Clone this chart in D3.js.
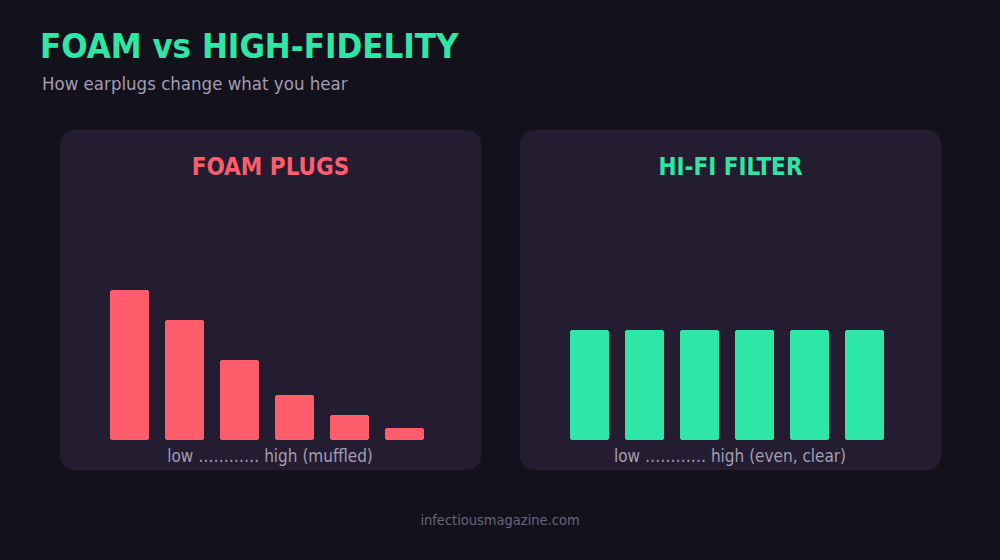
<!DOCTYPE html>
<html>
<head>
<meta charset="utf-8">
<script src="https://cdn.jsdelivr.net/npm/d3@7"></script>
<style>
  html, body { margin: 0; padding: 0; background: #13111c; }
  svg { display: block; font-family: "DejaVu Sans Condensed", "DejaVu Sans", sans-serif; }
</style>
</head>
<body>
<svg id="chart" width="1000" height="560"></svg>
<script>
var bands = ["b1", "b2", "b3", "b4", "b5", "b6"];
var foamValues = [100, 80, 53.3, 30, 16.7, 8];
var hifiValues = [73.4, 73.4, 73.4, 73.4, 73.4, 73.4];
var panelTitles = ["FOAM PLUGS", "HI-FI FILTER"];
var axisLabels = ["low ………… high (muffled)", "low ………… high (even, clear)"];
var panelColors = ["#ff5c6c", "#2ee6a6"];

var width = 1000, height = 560;
var svg = d3.select("#chart");

svg.append("rect").attr("width", width).attr("height", height).attr("fill", "#13111c");

svg.append("text")
    .attr("x", 40).attr("y", 58)
    .attr("fill", "#2ee6a6")
    .style("font-size", "34.5px").style("font-weight", "bold")
    .text("FOAM vs HIGH-FIDELITY");

svg.append("text")
    .attr("x", 42).attr("y", 90)
    .attr("fill", "#a39db3")
    .style("font-size", "18.5px")
    .text("How earplugs change what you hear");

var panelW = 421, panelH = 340, panelTop = 130;
var panelX = [60, 520];
var series = [foamValues, hifiValues];

// shared value scale, bottom of bars at 440
var y = d3.scaleLinear().domain([0, 100]).range([440, 290]);

panelX.forEach(function(px, i) {
  var g = svg.append("g").attr("transform", "translate(" + px + "," + 0 + ")");

  g.append("rect")
      .attr("x", 0).attr("y", panelTop)
      .attr("width", panelW).attr("height", panelH)
      .attr("rx", 14)
      .attr("fill", "#241d31");

  g.append("text")
      .attr("x", panelW / 2).attr("y", 175)
      .attr("text-anchor", "middle")
      .attr("fill", panelColors[i])
      .style("font-size", "24px").style("font-weight", "bold")
      .text(panelTitles[i]);

  var x = d3.scaleBand().domain(bands).range([50, 364]).paddingInner(16 / 55).paddingOuter(0);

  g.selectAll(".bar")
    .data(series[i])
    .enter().append("rect")
      .attr("class", "bar")
      .attr("x", function(d, j) { return x(bands[j]); })
      .attr("y", function(d) { return y(d); })
      .attr("width", x.bandwidth())
      .attr("height", function(d) { return y(0) - y(d); })
      .attr("rx", 3)
      .attr("shape-rendering", "crispEdges")
      .attr("fill", panelColors[i]);

  g.append("text")
      .attr("x", 210).attr("y", 462)
      .attr("text-anchor", "middle")
      .attr("fill", "#a39db3")
      .style("font-size", "17px")
      .text(axisLabels[i]);
});

svg.append("text")
    .attr("x", 500).attr("y", 525)
    .attr("text-anchor", "middle")
    .attr("fill", "#6b657a")
    .style("font-size", "14.5px")
    .text("infectiousmagazine.com");
</script>
</body>
</html>
